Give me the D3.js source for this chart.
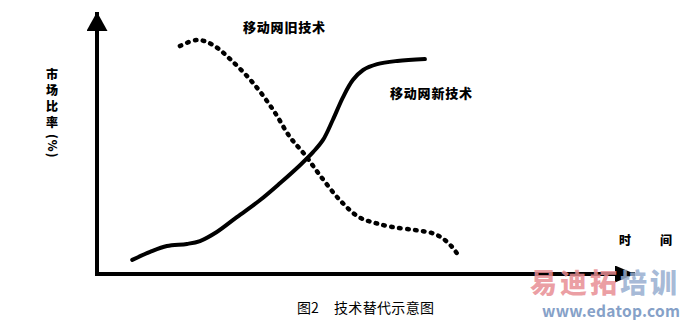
<!DOCTYPE html>
<html>
<head>
<meta charset="utf-8">
<script src="https://cdn.jsdelivr.net/npm/d3@7"></script>
<style>
  body { margin: 0; background: #fff; }
  text { font-family: "Noto Sans CJK SC", "Noto Sans", sans-serif; }
</style>
</head>
<body>
<svg id="wrapper"></svg>
<script>
//curve data: time (0-100) and market share (0-100)
let newTime  = [6.5, 9.8, 12.9, 16.6, 19.0, 22.1, 25.8, 30.1, 33.8, 37.5, 39.9, 41.7, 43.5, 45.4, 47.2, 49.1, 51.7, 55.4, 60.5];
let newShare = [5.3, 8.3, 10.5, 11.3, 12.4, 15.8, 21.4, 27.8, 34.2, 41.0, 45.9, 50.4, 57.9, 66.5, 72.9, 76.7, 78.9, 80.1, 80.8];
let oldTime  = [15.3, 18.5, 21.4, 25.1, 28.8, 32.5, 35.6, 38.4, 41.1, 44.8, 48.3, 51.3, 54.4, 58.7, 61.8, 63.7, 65.5, 67.0];
let oldShare = [85.7, 88.0, 86.1, 79.7, 71.8, 61.7, 51.5, 44.7, 37.2, 27.8, 21.4, 19.2, 17.7, 16.5, 15.4, 13.5, 10.2, 6.0];

let oldLabel = '移动网旧技术';
let newLabel = '移动网新技术';
let yLabel = ['市', '场', '比', '率'];
let yUnit = '(%)';
let xLabel = ['时', '间'];
let caption = ['图2', '技术替代示意图'];

let width = 684, height = 320;

let svg = d3.select('#wrapper')
  .attr('width', width)
  .attr('height', height);

//scales: domain end is the arrow tip
let xScale = d3.scaleLinear().domain([0, 100]).range([97, 639]);
let yScale = d3.scaleLinear().domain([0, 100]).range([274, 8]);

//arrowheads
let defs = svg.append('defs');
defs.append('marker')
  .attr('id', 'arrowY')
  .attr('markerUnits', 'userSpaceOnUse')
  .attr('viewBox', '0 0 19 21')
  .attr('markerWidth', 19).attr('markerHeight', 21)
  .attr('refX', 19).attr('refY', 10.5)
  .attr('orient', 'auto')
  .append('path').attr('d', 'M0,0 L19,10.5 L0,21 Z').attr('fill', '#000');

defs.append('marker')
  .attr('id', 'arrowX')
  .attr('markerUnits', 'userSpaceOnUse')
  .attr('viewBox', '0 0 20 17')
  .attr('markerWidth', 20).attr('markerHeight', 17)
  .attr('refX', 20).attr('refY', 8.5)
  .attr('orient', 'auto')
  .append('path').attr('d', 'M0,0 L20,8.5 L0,17 Z').attr('fill', '#000');

//axes
svg.append('line')
  .attr('x1', xScale(0)).attr('y1', yScale(0) + 2)
  .attr('x2', xScale(0)).attr('y2', yScale(100) + 4)
  .attr('stroke', '#000').attr('stroke-width', 4)
  .attr('marker-end', 'url(#arrowY)');

svg.append('line')
  .attr('x1', xScale(0) - 2).attr('y1', yScale(0))
  .attr('x2', xScale(100) - 4).attr('y2', yScale(0))
  .attr('stroke', '#000').attr('stroke-width', 4)
  .attr('marker-end', 'url(#arrowX)');

//curves
let line = d3.line()
  .x(function(d){return xScale(d[0])})
  .y(function(d){return yScale(d[1])})
  .curve(d3.curveCatmullRom);

svg.append('path')
  .datum(d3.zip(oldTime, oldShare))
  .attr('d', line)
  .attr('fill', 'none')
  .attr('stroke', '#000')
  .attr('stroke-width', 4.5)
  .attr('stroke-linecap', 'round')
  .attr('stroke-dasharray', '1.5 6.5');

svg.append('path')
  .datum(d3.zip(newTime, newShare))
  .attr('d', line)
  .attr('fill', 'none')
  .attr('stroke', '#000')
  .attr('stroke-width', 4)
  .attr('stroke-linecap', 'round');

//labels
svg.append('text')
  .attr('x', 243).attr('y', 32)
  .attr('font-size', 13).attr('font-weight', 900)
  .attr('textLength', 82)
  .text(oldLabel);

svg.append('text')
  .attr('x', 390).attr('y', 98)
  .attr('font-size', 13).attr('font-weight', 900)
  .attr('textLength', 82)
  .text(newLabel);

//vertical y label, one character per row
svg.selectAll('.ylab')
  .data(yLabel)
  .enter().append('text')
  .attr('class', 'ylab')
  .attr('x', 52)
  .attr('y', function(d, i){return 73 + i * 16.3})
  .attr('text-anchor', 'middle')
  .attr('dominant-baseline', 'central')
  .attr('font-size', 12).attr('font-weight', 900)
  .text(function(d){return d});

svg.append('text')
  .attr('transform', 'translate(48,134) rotate(90)')
  .attr('font-size', 12).attr('font-weight', 900)
  .attr('letter-spacing', 1)
  .text(yUnit);

svg.selectAll('.xlab')
  .data(xLabel)
  .enter().append('text')
  .attr('class', 'xlab')
  .attr('x', function(d, i){return 619 + i * 41})
  .attr('y', 245)
  .attr('font-size', 12).attr('font-weight', 900)
  .text(function(d){return d});

svg.append('text')
  .attr('x', 297).attr('y', 313)
  .attr('font-size', 14)
  .text(caption[0]);

svg.append('text')
  .attr('x', 334).attr('y', 313)
  .attr('font-size', 14)
  .attr('textLength', 100)
  .text(caption[1]);

//watermark
let wm = svg.append('text')
  .attr('x', 530).attr('y', 293)
  .attr('font-size', 27).attr('font-weight', 900)
  .attr('textLength', 147);
wm.append('tspan').attr('fill', '#e88e94').attr('fill-opacity', 0.85).text('易迪拓');
wm.append('tspan').attr('fill', '#97aed0').attr('fill-opacity', 0.85).text('培训');

svg.append('text')
  .attr('x', 542).attr('y', 317)
  .attr('font-family', '"Liberation Sans", Arial, sans-serif')
  .attr('font-size', 15.5).attr('font-weight', 'bold')
  .attr('textLength', 138)
  .attr('fill', '#86a1c8')
  .text('www.edatop.com');
</script>
</body>
</html>
